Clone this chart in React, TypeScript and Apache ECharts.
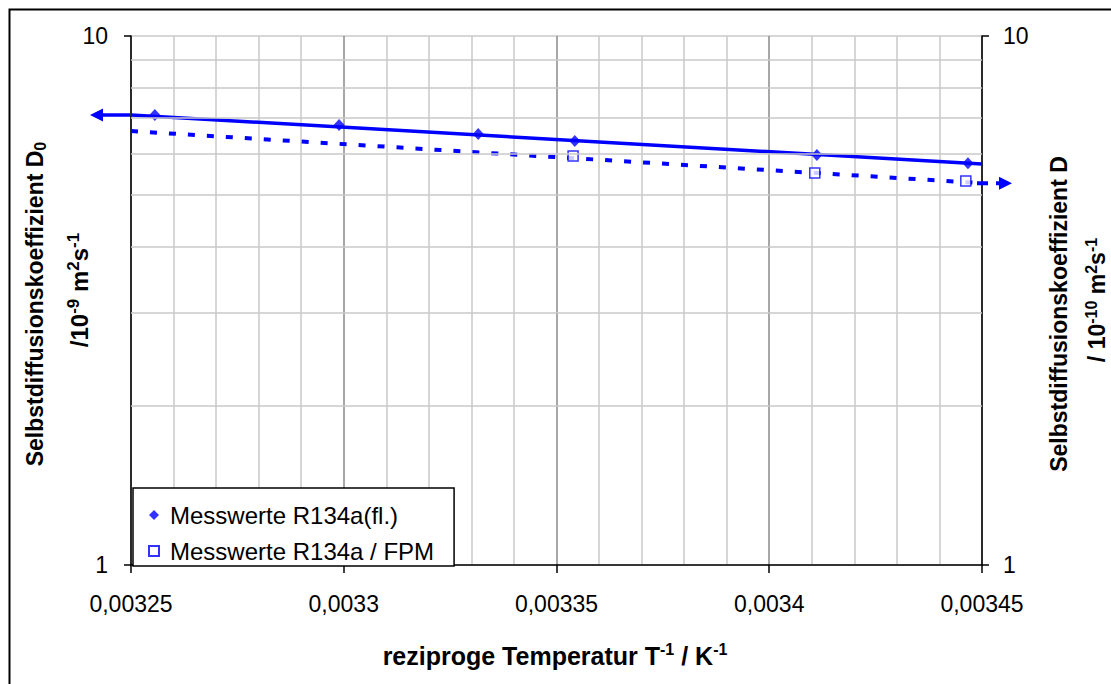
import React, { useEffect, useRef } from "react";
import * as echarts from "echarts";

const FONT = "'Liberation Sans', Arial, Helvetica, sans-serif";
const BLUE = "#0000ff";

// axes
const xMin = 0.00325;
const xMax = 0.00345;
const xStep = 0.00005;
const yMin = 1;
const yMax = 10;
const yMinorGrid = [2, 3, 4, 5, 6, 7, 8, 9];

// measured values
const liquidX = [0.0032556, 0.0032989, 0.0033316, 0.0033543, 0.0034112, 0.0034467];
const liquidD0 = [7.09, 6.79, 6.53, 6.33, 5.96, 5.75];
const fpmX = [0.0033539, 0.0034107, 0.0034462];
const fpmD = [5.93, 5.51, 5.32];

// fitted (Arrhenius) lines
const fitX = [0.00325, 0.00345];
const liquidFit = [7.09, 5.73];
const fpmFit = [6.61, 5.27];

const legendNames = ["Messwerte R134a(fl.)", "Messwerte R134a / FPM"];

const fmtX = (v: number) => String(parseFloat(Number(v).toPrecision(6))).replace(".", ",");

function makeRich(size: number, supSize: number) {
  const base = { fontWeight: "bold", fontFamily: FONT, fill: "#000", color: "#000" };
  return {
    b: { ...base, fontSize: size },
    sup: { ...base, fontSize: supSize, padding: [0, 0, Math.round(size * 0.5), 0] },
    sub: { ...base, fontSize: supSize, padding: [Math.round(size * 0.45), 0, 0, 0] },
  };
}

function titleText(text: string, x: number, y: number, rotation: number, size = 23, supSize = 15) {
  return {
    type: "text",
    x,
    y,
    rotation,
    z: 20,
    style: {
      text,
      rich: makeRich(size, supSize),
      align: "center",
      verticalAlign: "middle",
      fontFamily: FONT,
      fontSize: size,
      fontWeight: "bold",
      fill: "#000",
    },
  };
}

export default function App() {
  const ref = useRef<HTMLDivElement>(null);

  useEffect(() => {
    document.body.style.margin = "0";
    const chart = echarts.init(ref.current!, undefined, { renderer: "svg" });

    const axisLabel = { fontSize: 23, fontFamily: FONT, color: "#000" };

    chart.setOption({
      animation: false,
      backgroundColor: "#fff",
      grid: { left: 131, right: 129, top: 36, bottom: 119, containLabel: false },
      legend: {
        orient: "vertical",
        left: 133,
        top: 488,
        data: [
          { name: legendNames[0], icon: "diamond" },
          { name: legendNames[1], icon: "rect" },
        ],
        itemWidth: 10,
        itemHeight: 10,
        itemGap: 12,
        padding: [15, 20, 3, 15],
        backgroundColor: "#fff",
        borderColor: "#000",
        borderWidth: 1.5,
        borderRadius: 0,
        selectedMode: false,
        textStyle: { fontSize: 24, fontFamily: FONT, color: "#000", padding: [0, 0, 0, 6] },
        z: 10,
      },
      xAxis: {
        type: "value",
        min: xMin,
        max: xMax,
        interval: xStep,
        axisLine: { show: true, onZero: false, lineStyle: { color: "#000", width: 1.5 } },
        axisTick: { show: true, inside: false, length: 8, lineStyle: { color: "#000", width: 1.5 } },
        axisLabel: { ...axisLabel, margin: 27, formatter: fmtX },
        splitLine: { show: true, lineStyle: { color: "#8a8a8a", width: 1.5 } },
        minorTick: { show: false, splitNumber: 5 },
        minorSplitLine: { show: true, lineStyle: { color: "#c8c8c8", width: 1.5 } },
      },
      yAxis: [
        {
          type: "log",
          logBase: 10,
          min: yMin,
          max: yMax,
          position: "left",
          axisLine: { show: true, lineStyle: { color: "#000", width: 1.5 } },
          axisTick: { show: true, inside: false, length: 7, lineStyle: { color: "#000", width: 1.5 } },
          axisLabel: { ...axisLabel, margin: 23 },
          splitLine: { show: true, lineStyle: { color: "#c8c8c8", width: 1.5 } },
        },
        {
          type: "log",
          logBase: 10,
          min: yMin,
          max: yMax,
          position: "right",
          axisLine: { show: true, lineStyle: { color: "#000", width: 1.5 } },
          axisTick: { show: true, inside: false, length: 7, lineStyle: { color: "#000", width: 1.5 } },
          axisLabel: { ...axisLabel, margin: 21 },
          splitLine: { show: false },
        },
      ],
      series: [
        {
          name: "grid",
          type: "line",
          yAxisIndex: 0,
          z: 1,
          silent: true,
          showSymbol: false,
          lineStyle: { opacity: 0 },
          data: fitX.map((x, i) => [x, liquidFit[i]]),
          markLine: {
            silent: true,
            symbol: ["none", "none"],
            label: { show: false },
            lineStyle: { color: "#c8c8c8", type: "solid", width: 1.5 },
            emphasis: { disabled: true },
            data: yMinorGrid.map((v) => ({ yAxis: v })),
          },
        },
        {
          name: "fitLiquid",
          type: "line",
          yAxisIndex: 0,
          z: 3,
          showSymbol: false,
          silent: true,
          lineStyle: { color: BLUE, width: 3.5 },
          data: fitX.map((x, i) => [x, liquidFit[i]]),
        },
        {
          name: "fitFpm",
          type: "line",
          yAxisIndex: 1,
          z: 3,
          showSymbol: false,
          silent: true,
          lineStyle: { color: BLUE, width: 4, type: [7, 12] },
          data: fitX.map((x, i) => [x, fpmFit[i]]),
        },
        {
          name: legendNames[0],
          type: "scatter",
          yAxisIndex: 0,
          z: 4,
          symbol: "diamond",
          symbolSize: [11, 12],
          itemStyle: { color: BLUE },
          data: liquidX.map((x, i) => [x, liquidD0[i]]),
        },
        {
          name: legendNames[1],
          type: "scatter",
          yAxisIndex: 1,
          z: 4,
          symbol: "rect",
          symbolSize: 10,
          itemStyle: { color: "#fff", borderColor: BLUE, borderWidth: 1.5 },
          data: fpmX.map((x, i) => [x, fpmD[i]]),
        },
      ],
    });

    const pL = chart.convertToPixel({ seriesIndex: 1 }, [fitX[0], liquidFit[0]]) as number[];
    const pR = chart.convertToPixel({ seriesIndex: 2 }, [fitX[1], fpmFit[1]]) as number[];

    chart.setOption({
      graphic: [
        {
          type: "rect",
          shape: { x: 9.5, y: 9.5, width: 1300, height: 1000 },
          style: { fill: "none", stroke: "#000", lineWidth: 2 },
          silent: true,
          z: 30,
        },
        // left arrow (series on left axis)
        {
          type: "line",
          shape: { x1: pL[0] - 28, y1: pL[1], x2: pL[0] - 1, y2: pL[1] },
          style: { stroke: BLUE, lineWidth: 3.5 },
          z: 20,
        },
        {
          type: "polygon",
          shape: { points: [[pL[0] - 41, pL[1]], [pL[0] - 28, pL[1] - 6.5], [pL[0] - 28, pL[1] + 6.5]] },
          style: { fill: BLUE },
          z: 20,
        },
        // right arrow (series on right axis)
        {
          type: "line",
          shape: { x1: pR[0] - 5, y1: pR[1], x2: pR[0] + 17, y2: pR[1] },
          style: { stroke: BLUE, lineWidth: 4, lineDash: [11, 8] },
          z: 20,
        },
        {
          type: "polygon",
          shape: { points: [[pR[0] + 30, pR[1]], [pR[0] + 17, pR[1] - 6.5], [pR[0] + 17, pR[1] + 6.5]] },
          style: { fill: BLUE },
          z: 20,
        },
        titleText("{b|reziproge Temperatur T}{sup|-1}{b| / K}{sup|-1}", 555, 656, 0, 25, 16),
        titleText("{b|Selbstdiffusionskoeffizient D}{sub|0}", 35, 304, Math.PI / 2, 23, 16),
        titleText("{b|/10}{sup|-9}{b| m}{sup|2}{b|s}{sup|-1}", 79, 290, Math.PI / 2, 24, 17),
        titleText("{b|Selbstdiffusionskoeffizient D}", 1059, 314, Math.PI / 2, 23, 16),
        titleText("{b|/ 10}{sup|-10}{b| m}{sup|2}{b|s}{sup|-1}", 1097, 300, Math.PI / 2, 23, 16),
      ],
    });

    return () => chart.dispose();
  }, []);

  return <div ref={ref} style={{ width: 1111, height: 684 }} />;
}
